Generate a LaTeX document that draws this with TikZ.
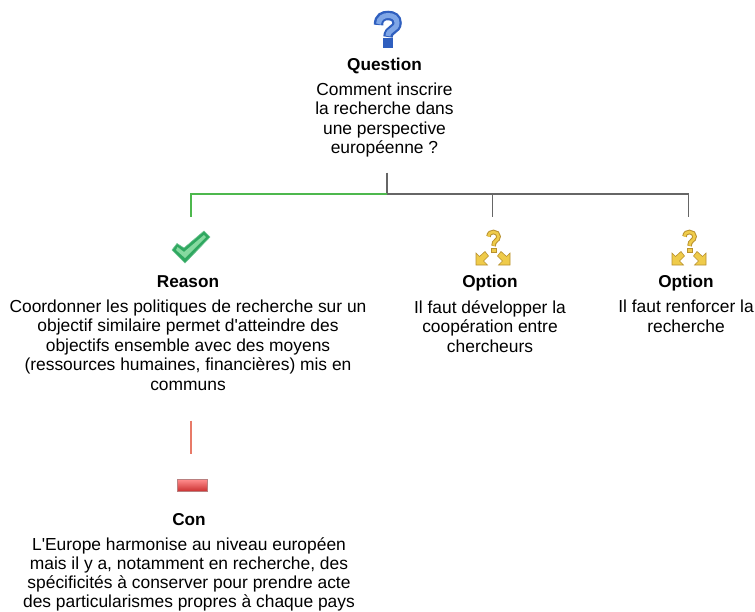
\documentclass[tikz,border=0pt]{standalone}
\usepackage{fontspec}
\setmainfont{Liberation Sans}
\definecolor{linkgray}{HTML}{666666}
\definecolor{linkgreen}{HTML}{4DB84D}
\definecolor{linkred}{HTML}{E87A68}
\definecolor{qdark}{HTML}{2F5FBF}
\definecolor{qlight}{HTML}{7FA6E6}
\definecolor{odark}{HTML}{B8912F}
\definecolor{olight}{HTML}{EFCB4A}
\definecolor{gdark}{HTML}{2FA860}
\definecolor{glight}{HTML}{86D9A0}
\tikzset{
  x=1pt,y=-1pt,
  txt/.style={inner sep=0pt,align=center,anchor=north,font=\fontsize{17.4}{19.5}\selectfont},
  ttl/.style={inner sep=0pt,anchor=base,font=\fontsize{17.2}{19}\selectfont\bfseries},
  iconbox/.style={inner sep=0pt,minimum width=36pt,minimum height=40pt,anchor=north},
  conn/.style={line width=1.1pt,color=linkgray},
  pics/qmark/.style={code={
    \draw[line width=9.5pt,color=qdark] (-9,14) .. controls (-9,6) and (-4,4.5) .. (0.5,4.5) .. controls (6,4.5) and (9.5,7) .. (9.5,12) .. controls (9.5,19) and (0.5,18) .. (0.5,26);
    \draw[line width=5pt,color=qlight] (-9,13) .. controls (-8.5,7) and (-4,4.5) .. (0.5,4.5) .. controls (6,4.5) and (9.5,7) .. (9.5,12) .. controls (9.5,19) and (0.5,18) .. (0.5,25);
    \fill[qdark] (-5,27) rectangle (5,37);
  }},
  pics/optmark/.style={code={
    \draw[line width=4.6pt,color=odark] (-4.5,6.5) .. controls (-4,3) and (-2,2) .. (0.5,2) .. controls (3.5,2) and (5.5,4) .. (5.5,6.5) .. controls (5.5,11) and (0.5,10) .. (0.5,16);
    \draw[line width=2.6pt,color=olight] (-4.5,6.5) .. controls (-4,3) and (-2,2) .. (0.5,2) .. controls (3.5,2) and (5.5,4) .. (5.5,6.5) .. controls (5.5,11) and (0.5,10) .. (0.5,15.5);
    \fill[draw=odark,fill=olight,line width=.6pt] (-2,18) rectangle (3,22);
    \foreach \s in {-1,1}{
      \fill[draw=odark,fill=olight,line width=.6pt]
        (\s*17,35) -- (\s*17,23) -- (\s*13.5,26.5) -- (\s*8,21.5) -- (\s*4.5,26) -- (\s*9.5,31) -- (\s*5.5,35) -- cycle;
    }
  }},
}
\begin{document}
\begin{tikzpicture}
\useasboundingbox (0,0) rectangle (755,611);

% texts
\node[ttl] (qt) at (384.5,70) {Question};
\node[txt] (qb) at (384.5,82.5) {Comment inscrire\\la recherche dans\\une perspective\\européenne ?};
\node[ttl] (rt) at (188,287) {Reason};
\node[txt] (rb) at (188,299.5) {Coordonner les politiques de recherche sur un\\objectif similaire permet d\textquotesingle atteindre des\\objectifs ensemble avec des moyens\\(ressources humaines, financières) mis en\\communs};
\node[ttl] (ot1) at (490,287) {Option};
\node[txt] (ob1) at (490,300) {Il faut développer la\\coopération entre\\chercheurs};
\node[ttl] (ot2) at (686,287) {Option};
\node[txt] (ob2) at (686,300) {Il faut renforcer la\\recherche};
\node[ttl] (ct) at (189,525) {Con};
\node[txt,font=\fontsize{17.4}{19}\selectfont] (cb) at (189,537.5) {L\textquotesingle Europe harmonise au niveau européen\\mais il y a, notamment en recherche, des\\spécificités à conserver pour prendre acte\\des particularismes propres à chaque pays};

% icon anchors
\node[iconbox] (qi) at (387,10) {};
\node[iconbox] (ri) at (191,217) {};
\node[iconbox] (oi1) at (492.5,217) {};
\node[iconbox] (oi2) at (688.5,217) {};
\node[iconbox] (ci) at (191,454) {};
\coordinate (j) at (387,194);

% connectors
\draw[conn,shorten <=15pt] (qb.south -| j) -- (j);
\draw[conn] (j) -| (oi1.north);
\draw[conn] (j) -| (oi2.north);
\draw[line width=1.1pt,color=linkgreen] (j) -| (ri.north);
\draw[line width=1.1pt,color=linkred,shorten <=30pt] (rb.south -| ci) -- (ci.north);

% icons
\pic at (387.5,11) {qmark};
\pic at (493,230) {optmark};
\pic at (689,230) {optmark};
\path[fill=gdark,draw=gdark!70!white,line width=.6pt]
  (172,250) -- (177,243.5) -- (184,248) -- (204,231) -- (210,237) -- (185,263) -- cycle;
\path[fill=glight]
  (176,250) -- (177.5,247) -- (184,252) -- (204,235) -- (206,237) -- (185,258) -- cycle;
\path[top color=red!45!white,bottom color=red!75!black!80,draw=red!45!black!50,line width=.5pt]
  (177,479.5) rectangle (207,491);
\end{tikzpicture}
\end{document}
